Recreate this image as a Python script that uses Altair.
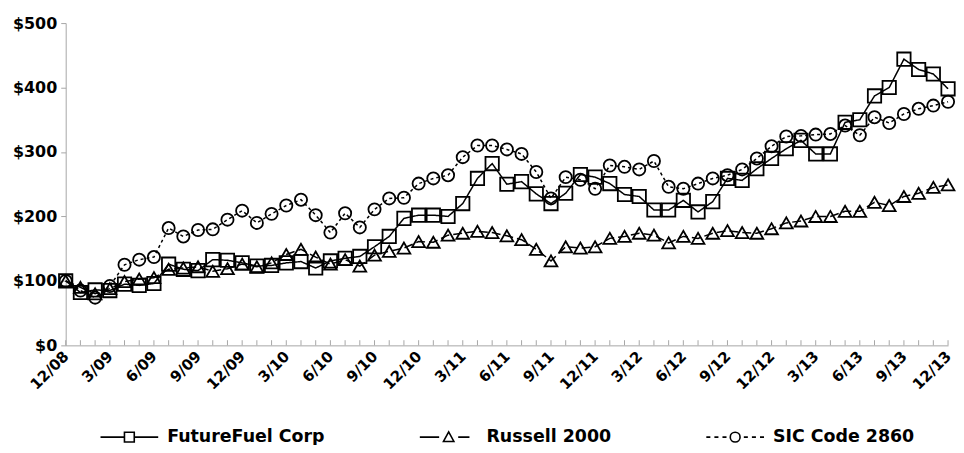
import altair as alt
import pandas as pd

months = [
    "12/08",
    "1/09", "2/09", "3/09", "4/09", "5/09", "6/09", "7/09", "8/09", "9/09", "10/09", "11/09", "12/09",
    "1/10", "2/10", "3/10", "4/10", "5/10", "6/10", "7/10", "8/10", "9/10", "10/10", "11/10", "12/10",
    "1/11", "2/11", "3/11", "4/11", "5/11", "6/11", "7/11", "8/11", "9/11", "10/11", "11/11", "12/11",
    "1/12", "2/12", "3/12", "4/12", "5/12", "6/12", "7/12", "8/12", "9/12", "10/12", "11/12", "12/12",
    "1/13", "2/13", "3/13", "4/13", "5/13", "6/13", "7/13", "8/13", "9/13", "10/13", "11/13", "12/13",
]

tick_labels = ["12/08", "3/09", "6/09", "9/09", "12/09", "3/10", "6/10", "9/10", "12/10",
               "3/11", "6/11", "9/11", "12/11", "3/12", "6/12", "9/12", "12/12",
               "3/13", "6/13", "9/13", "12/13"]

series_names = ["FutureFuel Corp", "Russell 2000", "SIC Code 2860"]

futurefuel = [100, 82, 86, 85, 95, 93, 96, 126, 118, 116,
              133, 132, 128, 123, 124, 128, 130, 120, 131, 135,
              138, 153, 169, 197, 202, 202, 200, 220, 259, 282,
              250, 254, 235, 220, 236, 265, 261, 251, 234, 231,
              210, 210, 225, 207, 223, 259, 256, 274, 290, 305,
              318, 297, 297, 346, 350, 387, 400, 444, 428, 421,
              398]

russell = [100, 90, 80, 88, 99, 103, 105, 118, 120, 122,
           115, 119, 126, 122, 128, 141, 149, 137, 126, 133,
           123, 140, 146, 151, 161, 160, 171, 174, 177, 175,
           170, 164, 149, 131, 153, 151, 153, 166, 169, 174,
           171, 159, 169, 166, 174, 178, 175, 174, 181, 190,
           193, 200, 200, 208, 208, 222, 217, 231, 236, 245,
           249]

sic2860 = [100, 85, 74, 92, 125, 133, 137, 182, 169, 179,
           180, 195, 209, 190, 204, 217, 226, 202, 175, 205,
           183, 211, 228, 229, 251, 259, 264, 292, 310, 310,
           304, 297, 269, 228, 261, 257, 243, 279, 277, 273,
           286, 246, 243, 251, 259, 264, 273, 290, 309, 324,
           325, 327, 328, 341, 326, 354, 345, 359, 367, 372,
           378]

rows = []
for name, vals in zip(series_names, [futurefuel, russell, sic2860]):
    for m, v in zip(months, vals):
        rows.append({"month": m, "series": name, "value": v})
df = pd.DataFrame(rows)
months_df = pd.DataFrame({"month": months})

FONT = "DejaVu Sans"
AXIS_GRAY = "#a6a6a6"

label_list = ",".join("'%s'" % t for t in tick_labels)
x_scale = alt.Scale(domain=months, type="point", padding=0)
x_axis = alt.Axis(
    title=None, labelAngle=-45, labelAlign="right", labelBaseline="middle",
    labelExpr="indexof([%s], datum.label) >= 0 ? datum.label : ''" % label_list,
    labelOverlap=False, ticks=False, domainColor=AXIS_GRAY, domainWidth=1,
    labelFont=FONT, labelFontSize=15, labelFontWeight="bold", labelColor="black",
    labelPadding=8, grid=False,
)
y_scale = alt.Scale(domain=[0, 500], nice=False, zero=True)
y_axis = alt.Axis(
    title=None, values=list(range(0, 501, 50)), labelExpr="'$' + datum.value",
    grid=False, domainColor=AXIS_GRAY, tickColor=AXIS_GRAY, tickSize=5,
    labelFont=FONT, labelFontSize=16, labelFontWeight="bold", labelColor="black",
    labelPadding=4,
)

base = alt.Chart(df)

lines = base.mark_line(color="black", strokeWidth=1.5).encode(
    x=alt.X("month:N", scale=x_scale, axis=x_axis),
    y=alt.Y("value:Q", scale=y_scale, axis=y_axis),
    detail="series:N",
    strokeDash=alt.StrokeDash(
        "series:N",
        scale=alt.Scale(domain=series_names, range=[[1, 0], [9, 4], [3, 3]]),
        legend=None,
    ),
)

points = base.mark_point(filled=False, color="black", strokeWidth=1.8, opacity=1).encode(
    x=alt.X("month:N", scale=x_scale, axis=x_axis),
    y=alt.Y("value:Q", scale=y_scale, axis=y_axis),
    shape=alt.Shape(
        "series:N",
        scale=alt.Scale(domain=series_names, range=["square", "triangle-up", "circle"]),
        legend=None,
    ),
    size=alt.Size(
        "series:N",
        scale=alt.Scale(domain=series_names, range=[180, 150, 180]),
        legend=None,
    ),
)

ticks = alt.Chart(months_df).mark_rule(color=AXIS_GRAY, strokeWidth=1).encode(
    x=alt.X("month:N", scale=x_scale, axis=x_axis),
    y=alt.datum(0),
    y2=alt.datum(8),
)

legend_paths = [
    "M-1,0H-0.17M0.17,0H1M-0.17,-0.17H0.17V0.17H-0.17Z",
    "M-1,0H-0.33M0.33,0H0.72M-0.18,0.15L0,-0.18L0.18,0.15Z",
    "M-1,0H-0.86M-0.72,0H-0.58M-0.44,0H-0.3M0.3,0H0.44M0.58,0H0.72M0.86,0H1"
    "M0.17,0A0.17,0.17,0,1,1,-0.17,0A0.17,0.17,0,1,1,0.17,0Z",
]

legend_layer = base.transform_filter("false").mark_point(
    filled=False, color="black", strokeWidth=1.6, opacity=1
).encode(
    shape=alt.Shape(
        "series:N",
        scale=alt.Scale(domain=series_names, range=legend_paths),
        legend=alt.Legend(
            title=None, orient="none", legendX=34, legendY=386,
            direction="horizontal", symbolSize=3364, symbolStrokeWidth=1.6,
            symbolStrokeColor="black", symbolFillColor="white",
            labelFont=FONT, labelFontSize=17.5, labelFontWeight="bold",
            labelColor="black", labelOffset=8, columnPadding=91, labelLimit=400,
        ),
    ),
)

chart = (
    alt.layer(ticks, lines, points, legend_layer)
    .resolve_scale(shape="independent", size="independent")
    .properties(
        width=887, height=324,
        padding={"left": 58, "top": 14, "right": 8, "bottom": 99},
        autosize=alt.AutoSizeParams(type="none"),
        background="white",
    )
    .configure_view(stroke=None)
)

chart.save("out.html", embed_options={"renderer": "svg", "actions": False})
